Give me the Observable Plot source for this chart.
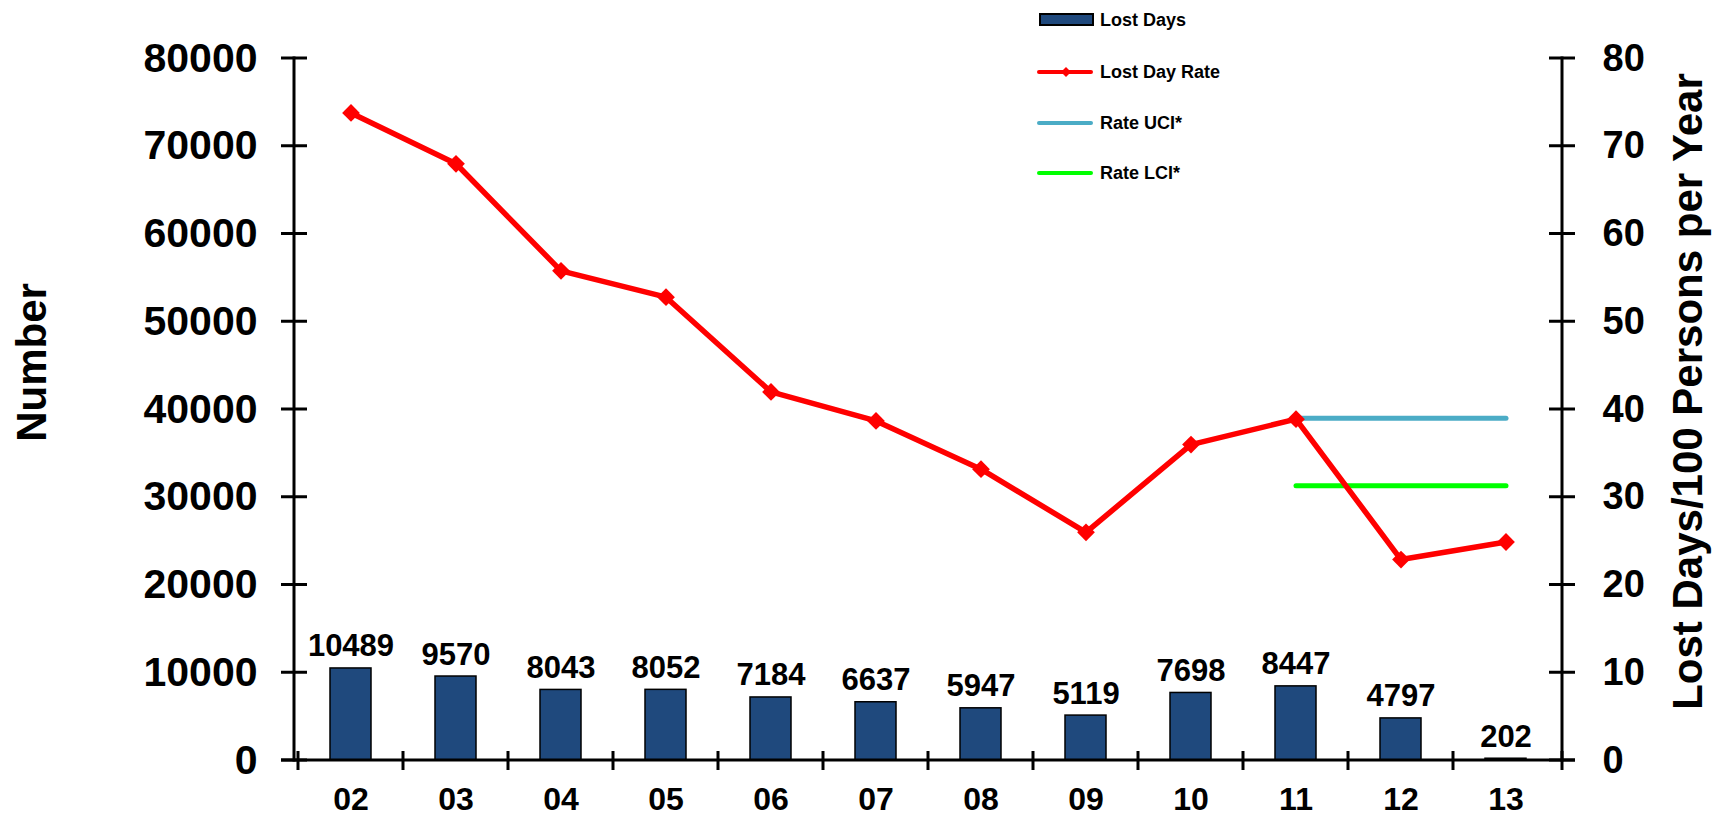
<!DOCTYPE html>
<html>
<head>
<meta charset="utf-8">
<script src="https://cdn.jsdelivr.net/npm/d3@7"></script>
<script src="https://cdn.jsdelivr.net/npm/@observablehq/plot@0.6"></script>
<style>
  html, body { margin: 0; padding: 0; background: #fff; }
  #wrap { position: relative; width: 1713px; height: 819px; }
  #legend { position: absolute; left: 0; top: 0; }
</style>
</head>
<body>
<div id="wrap"></div>
<script>
// ---- data ----
const years = ["02","03","04","05","06","07","08","09","10","11","12","13"];
const lostDays = [10489, 9570, 8043, 8052, 7184, 6637, 5947, 5119, 7698, 8447, 4797, 202];
const lostDayRate = [73.8, 68.0, 55.8, 52.8, 42.0, 38.7, 33.2, 26.0, 36.0, 38.9, 22.9, 24.9];
const ciYears = ["11", "13"];
const rateUCI = [39.0, 39.0];
const rateLCI = [31.3, 31.3];
const leftTicks = [0, 10000, 20000, 30000, 40000, 50000, 60000, 70000, 80000];
const rightTicks = [0, 10, 20, 30, 40, 50, 60, 70, 80];
const legendLabels = ["Lost Days", "Lost Day Rate", "Rate UCI*", "Rate LCI*"];

// scale factor between the right (rate) axis and the left (number) axis
const K = 1000;

const bars = years.map((year, i) => ({year, days: lostDays[i]}));
const rates = years.map((year, i) => ({year, rate: lostDayRate[i]}));
const uci = ciYears.map((year, i) => ({year, rate: rateUCI[i]}));
const lci = ciYears.map((year, i) => ({year, rate: rateLCI[i]}));

const FONT = "'Liberation Sans', Arial, Helvetica, sans-serif";

function axisLines(index, scales, values, dims) {
  const x0 = dims.marginLeft, x1 = dims.width - dims.marginRight;
  const y0 = dims.marginTop, yb = dims.height - dims.marginBottom;
  const g = d3.create("svg:g").attr("stroke", "black").attr("stroke-width", 3).attr("fill", "none");
  g.append("line").attr("x1", x0).attr("x2", x0).attr("y1", y0 - 1.5).attr("y2", yb + 1.5);
  g.append("line").attr("x1", x1).attr("x2", x1).attr("y1", y0 - 1.5).attr("y2", yb + 1.5);
  g.append("line").attr("x1", x0 - 13).attr("x2", x1 + 13).attr("y1", yb).attr("y2", yb);
  for (const t of leftTicks) {
    const y = scales.y(t);
    g.append("line").attr("x1", x0 - 13).attr("x2", x0 + 13).attr("y1", y).attr("y2", y);
  }
  for (const t of rightTicks) {
    const y = scales.y(t * K);
    g.append("line").attr("x1", x1 - 13).attr("x2", x1 + 13).attr("y1", y).attr("y2", y);
  }
  const edges = years.map(d => scales.x(d)).concat([x1]);
  for (const x of edges) {
    g.append("line").attr("x1", x).attr("x2", x).attr("y1", yb - 9).attr("y2", yb + 10);
  }
  return g.node();
}

const chart = Plot.plot({
  width: 1713,
  height: 819,
  marginLeft: 294,
  marginRight: 151,
  marginTop: 58,
  marginBottom: 59,
  style: {fontFamily: FONT, fontWeight: "bold", color: "black", background: "white"},
  x: {type: "band", domain: years, padding: 0, axis: null},
  y: {domain: [0, 80000], axis: null},
  marks: [
    Plot.barY(bars, {x: "year", y: "days", fill: "#1F497D", stroke: "black", strokeWidth: 1.5, insetLeft: 32, insetRight: 32}),
    Plot.text(bars, {x: "year", y: "days", text: d => String(d.days), lineAnchor: "bottom", dy: -12, fontSize: 31, fontWeight: "bold", fill: "black"}),
    Plot.line(uci, {x: "year", y: d => d.rate * K, stroke: "#4BACC6", strokeWidth: 5, strokeLinecap: "round"}),
    Plot.line(lci, {x: "year", y: d => d.rate * K, stroke: "#00FF00", strokeWidth: 5, strokeLinecap: "round"}),
    Plot.line(rates, {x: "year", y: d => d.rate * K, stroke: "#FF0000", strokeWidth: 5.5}),
    Plot.dot(rates, {x: "year", y: d => d.rate * K, symbol: "diamond2", r: 8, fill: "#FF0000", stroke: "none"}),
    Plot.axisY(leftTicks, {anchor: "left", tickSize: 0, tickPadding: 37, fontSize: 41, fontWeight: "bold", tickFormat: d => String(d), label: null}),
    Plot.axisY(rightTicks.map(v => v * K), {anchor: "right", tickSize: 0, tickPadding: 40, fontSize: 38, fontWeight: "bold", tickFormat: d => String(d / K), label: null}),
    Plot.axisX({anchor: "bottom", tickSize: 0, tickPadding: 27, fontSize: 32, fontWeight: "bold", label: null}),
    Plot.text(["Number"], {frameAnchor: "left", textAnchor: "middle", dx: -262, dy: -47, rotate: -90, fontSize: 42, fontWeight: "bold", fill: "black"}),
    Plot.text(["Lost Days/100 Persons per Year"], {frameAnchor: "right", textAnchor: "middle", dx: 126, dy: -18, rotate: -90, fontSize: 42, fontWeight: "bold", fill: "black"}),
    axisLines
  ]
});

const wrap = document.getElementById("wrap");
wrap.appendChild(chart);

// ---- legend (overlaid at the top, as in the original) ----
const leg = d3.select(wrap).append("svg").attr("id", "legend")
  .attr("width", 1713).attr("height", 200)
  .style("font-family", FONT).style("font-weight", "bold");
const rowY = [20, 72, 123, 173];
const swatchColors = ["#1F497D", "#FF0000", "#4BACC6", "#00FF00"];
legendLabels.forEach((label, i) => {
  const y = rowY[i];
  if (i === 0) {
    leg.append("rect").attr("x", 1040).attr("y", y - 6).attr("width", 53).attr("height", 11)
      .attr("fill", swatchColors[i]).attr("stroke", "black").attr("stroke-width", 2);
  } else {
    leg.append("line").attr("x1", 1039).attr("x2", 1091).attr("y1", y).attr("y2", y)
      .attr("stroke", swatchColors[i]).attr("stroke-width", 4).attr("stroke-linecap", "round");
    if (i === 1) {
      leg.append("path").attr("d", `M1066,${y - 5}L1071,${y}L1066,${y + 5}L1061,${y}Z`).attr("fill", "#FF0000");
    }
  }
  leg.append("text").attr("x", 1100).attr("y", y).attr("dy", "0.35em")
    .attr("font-size", 18).attr("fill", "black").text(label);
});
</script>
</body>
</html>
